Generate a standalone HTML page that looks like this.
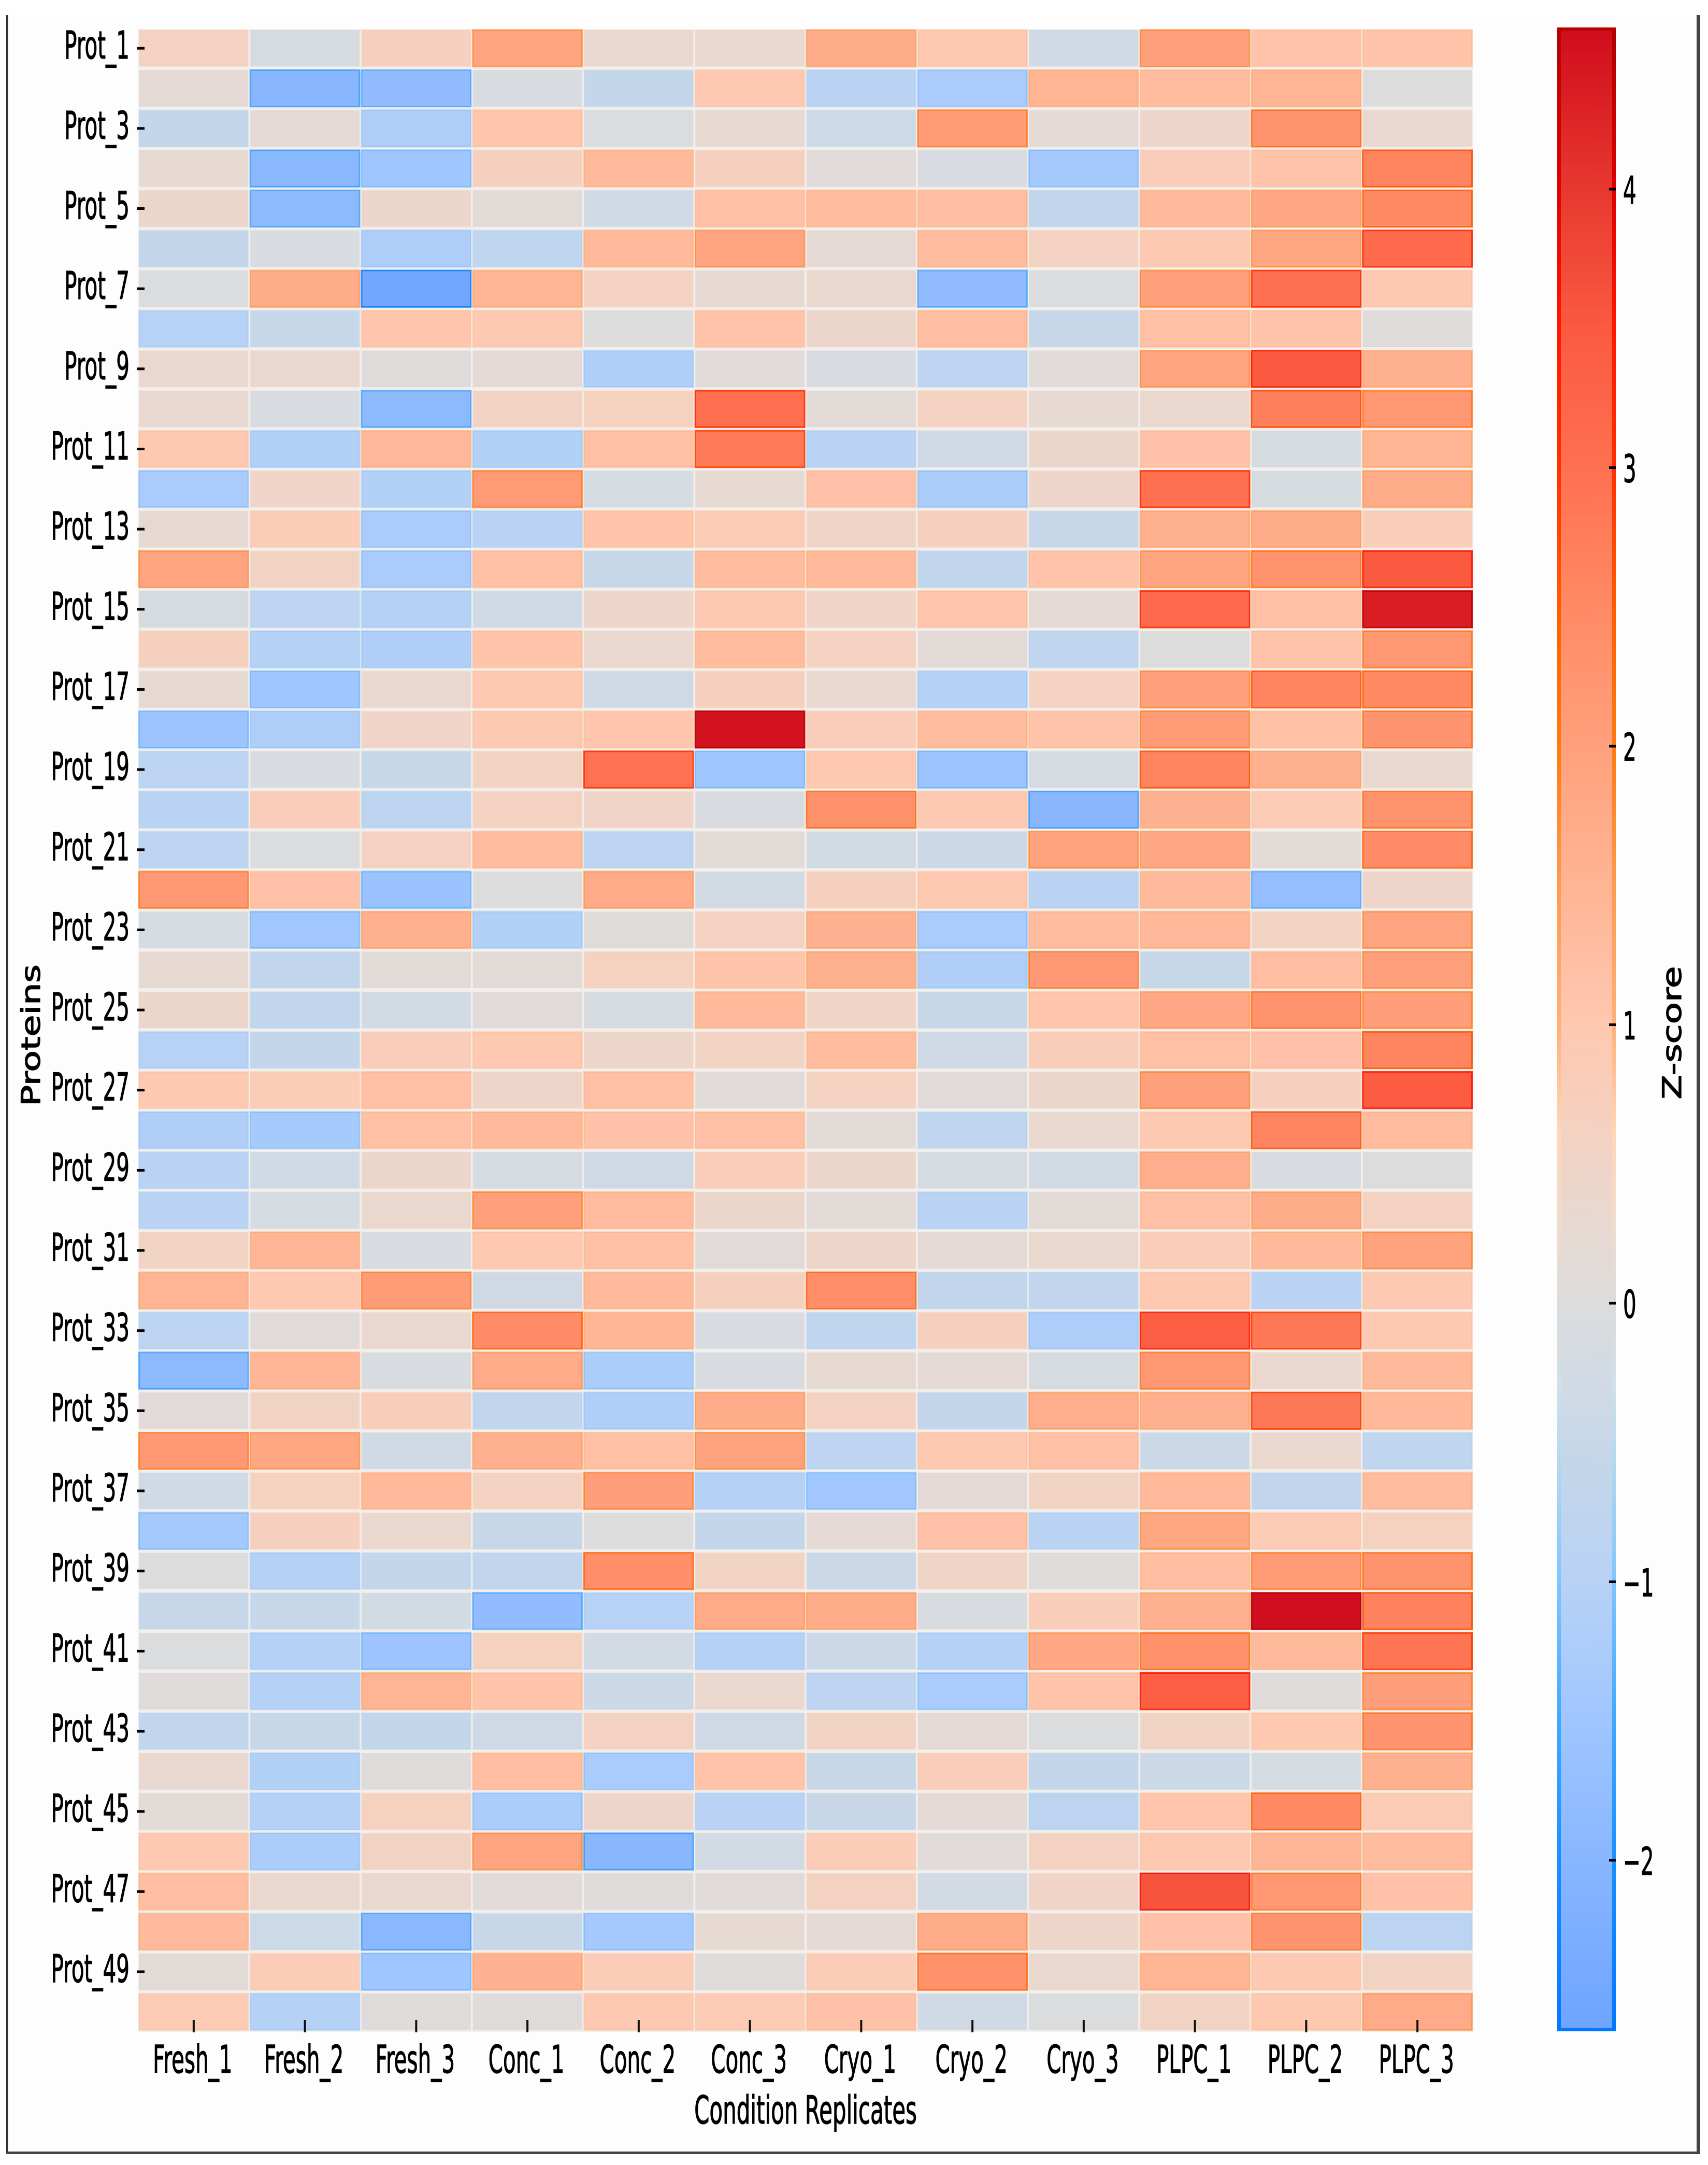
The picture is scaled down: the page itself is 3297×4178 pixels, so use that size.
<!DOCTYPE html>
<html lang="en">
<head>
<meta charset="utf-8">
<title>Protein Z-score heatmap</title>
<style>
html,body{margin:0;padding:0;background:#fff;}
svg{display:block;}
text{font-family:"DejaVu Sans","Liberation Sans",sans-serif;fill:#000;stroke:#000;stroke-width:1.3;}
</style>
</head>
<body>
<svg id="chart" xmlns="http://www.w3.org/2000/svg" width="3297" height="4178" viewBox="0 0 3297 4178">
  <defs>
    <linearGradient id="cbar-fill" x1="0" y1="0" x2="0" y2="1"></linearGradient>
    <linearGradient id="cbar-edge" x1="0" y1="0" x2="0" y2="1"></linearGradient>
  </defs>
  <rect x="14" y="29" width="3261" height="4125" fill="#fdfdfd"/>
  <rect x="12" y="29" width="3.5" height="4127" fill="#333"/>
  <rect x="3275" y="29" width="7" height="4128" fill="#444"/>
  <rect x="12" y="4152" width="3270" height="5" fill="#444"/>
  <rect x="266.5" y="56" width="2577" height="3865" fill="#f3efed"/>
  <g id="cells"></g>
  <g id="y-axis"></g>
  <g id="x-axis"></g>
  <g id="colorbar"></g>
  <text font-size="50" text-anchor="middle" transform="translate(77,1998) rotate(-90) scale(1.36,1)">Proteins</text>
  <text font-size="75" text-anchor="middle" transform="translate(1555,4098) scale(0.56,1)">Condition Replicates</text>
  <text font-size="50" text-anchor="middle" transform="translate(3245,1993) rotate(-90) scale(1.385,1)">Z-score</text>
</svg>
<script>
const replicates = ["Fresh_1","Fresh_2","Fresh_3","Conc_1","Conc_2","Conc_3","Cryo_1","Cryo_2","Cryo_3","PLPC_1","PLPC_2","PLPC_3"];
const colorbarTicks = [4,3,2,1,0,-1,-2];
const zScores = [
[0.6,-0.15,0.7,1.9,0.35,0.35,1.7,1.0,-0.3,2.0,1.1,1.1],
[0.2,-2.0,-1.8,-0.1,-0.6,1.0,-0.9,-1.3,1.5,1.3,1.5,0.0],
[-0.65,0.2,-1.2,1.05,-0.05,0.25,-0.4,2.1,0.2,0.45,2.3,0.3],
[0.25,-1.95,-1.5,0.7,1.35,0.7,0.1,-0.1,-1.4,0.8,1.1,2.6],
[0.4,-1.9,0.4,0.15,-0.3,1.2,1.3,1.25,-0.7,1.35,1.8,2.5],
[-0.6,-0.1,-1.2,-0.75,1.35,1.9,0.2,1.3,0.6,0.95,1.85,3.1],
[-0.05,1.7,-2.5,1.5,0.6,0.25,0.35,-1.8,-0.05,2.0,3.0,0.95],
[-1.0,-0.55,1.05,0.95,0.0,1.1,0.4,1.25,-0.55,1.2,1.1,0.05],
[0.35,0.35,0.05,0.2,-1.15,0.1,-0.1,-0.8,0.1,1.9,3.5,1.6],
[0.3,-0.1,-1.9,0.55,0.65,3.05,0.15,0.6,0.25,0.35,2.7,2.2],
[1.0,-1.1,1.4,-1.1,1.2,2.8,-0.95,-0.35,0.4,1.15,-0.15,1.5],
[-1.3,0.5,-1.1,2.1,-0.2,0.25,1.15,-1.25,0.45,3.0,-0.15,1.7],
[0.25,0.85,-1.3,-0.95,1.1,0.9,0.5,0.7,-0.55,1.6,1.7,0.8],
[1.9,0.55,-1.3,1.2,-0.5,1.3,1.35,-0.7,1.1,1.9,2.3,3.5],
[-0.15,-0.8,-1.05,-0.3,0.45,0.95,0.5,1.05,0.2,3.1,1.2,4.35],
[0.7,-1.05,-1.15,1.1,0.3,1.3,0.6,0.15,-0.75,0.0,1.1,2.2],
[0.25,-1.5,0.3,1.0,-0.35,0.7,0.3,-1.05,0.6,2.0,2.6,2.5],
[-1.55,-1.2,0.5,0.95,1.05,4.5,0.8,1.3,1.1,2.1,1.2,2.25],
[-0.85,-0.1,-0.55,0.55,2.95,-1.5,1.0,-1.55,-0.2,2.6,1.6,0.3],
[-0.9,0.8,-0.85,0.6,0.5,-0.1,2.35,0.95,-2.0,1.55,0.9,2.3],
[-0.85,-0.05,0.6,1.3,-0.85,0.15,-0.25,-0.45,1.95,1.8,0.15,2.45],
[2.15,1.15,-1.6,0.0,1.75,-0.25,0.7,1.0,-0.9,1.35,-1.75,0.45],
[-0.2,-1.45,1.6,-1.1,0.05,0.6,1.55,-1.3,1.3,1.4,0.55,1.9],
[0.25,-0.7,0.15,0.15,0.65,1.1,1.6,-1.15,2.15,-0.55,1.25,2.0],
[0.4,-0.7,-0.25,0.1,-0.15,1.35,0.5,-0.5,1.05,1.8,2.3,2.05],
[-1.0,-0.6,0.8,1.0,0.45,0.55,1.3,-0.35,0.75,1.2,1.15,2.6],
[0.95,0.85,1.2,0.45,1.2,0.1,0.6,0.1,0.4,2.0,0.7,3.45],
[-1.15,-1.35,1.2,1.35,1.15,1.2,0.15,-0.75,0.3,0.95,2.6,1.3],
[-0.95,-0.3,0.4,-0.2,-0.35,0.8,0.4,-0.2,-0.25,1.65,-0.1,0.0],
[-0.9,-0.2,0.35,2.0,1.3,0.4,0.15,-0.95,0.15,1.2,1.7,0.6],
[0.55,1.45,-0.1,1.0,1.2,0.1,0.45,0.2,0.35,0.8,1.35,1.95],
[1.5,1.0,2.1,-0.35,1.35,0.7,2.4,-0.7,-0.7,1.0,-0.9,0.95],
[-0.85,0.1,0.35,2.45,1.45,-0.1,-0.75,0.7,-1.2,3.4,2.85,0.95],
[-1.9,1.45,-0.1,1.75,-1.25,-0.1,0.25,0.2,-0.15,2.2,0.35,1.35],
[0.1,0.55,0.75,-0.7,-1.15,1.7,0.6,-0.65,1.65,1.6,2.85,1.4],
[2.15,1.85,-0.3,1.6,1.2,1.95,-0.8,1.0,1.2,-0.45,0.35,-0.75],
[-0.3,0.65,1.35,0.6,2.05,-1.05,-1.45,0.2,0.55,1.35,-0.7,1.3],
[-1.4,0.7,0.35,-0.5,0.0,-0.6,0.2,1.15,-0.9,1.85,0.9,0.65],
[0.0,-1.05,-0.65,-0.7,2.4,0.55,-0.45,0.5,0.05,1.25,2.1,2.3],
[-0.55,-0.55,-0.25,-1.8,-1.0,1.75,1.7,-0.1,0.75,1.6,4.55,2.65],
[-0.05,-1.05,-1.55,0.65,-0.25,-1.05,-0.45,-1.05,1.8,2.35,1.35,2.9],
[0.05,-1.05,1.5,1.1,-0.45,0.35,-0.8,-1.3,1.1,3.4,0.05,2.05],
[-0.7,-0.5,-0.65,-0.35,0.6,-0.35,0.55,0.2,-0.05,0.55,1.0,2.25],
[0.3,-1.1,0.05,1.25,-1.3,1.1,-0.5,0.8,-0.65,-0.45,-0.2,1.6],
[0.15,-1.05,0.65,-1.25,0.45,-0.95,-0.5,0.2,-0.85,1.05,2.5,0.9],
[0.95,-1.25,0.55,1.9,-2.0,-0.25,0.85,0.1,0.6,1.0,1.45,1.3],
[1.25,0.35,0.35,0.1,0.05,0.1,0.6,-0.25,0.5,3.6,2.2,1.15],
[1.35,-0.4,-1.95,-0.5,-1.4,0.25,0.2,1.7,0.45,1.15,2.25,-0.85],
[0.15,0.85,-1.5,1.55,0.85,0.05,0.85,2.35,0.35,1.5,0.95,0.55],
[0.9,-1.05,0.05,0.05,0.95,0.9,1.15,-0.3,-0.05,0.55,1.0,1.75]
];
const colorValues = [-2.62,-2,-1.5,-1,-0.6,-0.3,0,0.3,0.6,1,1.5,2,2.5,3,3.5,4,4.58];
const fillColors = ["#6ea4ff","#88b6ff","#a0c6ff","#b8d2f5","#c4d6ea","#d0dae4","#dcdcdc","#e8d8d0","#f3d2c2","#ffc8b0","#ffb494","#ffa07c","#ff8a64","#ff7050","#fa5a40","#e83830","#d00c1c"];
const edgeColors = ["#0078ff","#1890ff","#40a8ff","#80c4ff","#b0d8f0","#d0e0e8","#dcdcdc","#f0dccc","#ffd8b8","#ffb078","#ff9a50","#ff7a10","#ff5c00","#ff3000","#ff1800","#e00000","#b00000"];

const NS = "http://www.w3.org/2000/svg";
const plotLeft = 266.5, plotRight = 2843.5, plotTop = 54.5, rowStep = 77.33;
const colStep = (plotRight - plotLeft) / replicates.length;
const zeroY = 2515, unitY = 537.5;
const barLeft = 3006, barRight = 3119, barTop = 53, barBottom = 3920;

function xScale(col){ return plotLeft + col * colStep; }
function yScale(row){ return plotTop + row * rowStep; }
function barY(value){ return zeroY - value * unitY; }
function hexToRgb(h){ return [parseInt(h.slice(1,3),16),parseInt(h.slice(3,5),16),parseInt(h.slice(5,7),16)]; }
function ramp(value, colors){
  const n = colorValues.length;
  if(value <= colorValues[0]) return colors[0];
  if(value >= colorValues[n-1]) return colors[n-1];
  let i = 0;
  while(value > colorValues[i+1]) i++;
  const t = (value - colorValues[i]) / (colorValues[i+1] - colorValues[i]);
  const a = hexToRgb(colors[i]), b = hexToRgb(colors[i+1]);
  return "rgb(" + a.map((c,k)=>Math.round(c + (b[k]-c)*t)).join(",") + ")";
}
function make(tag, parent){
  const el = document.createElementNS(NS, tag);
  parent.appendChild(el);
  return el;
}

const cellsGroup = document.getElementById("cells");
zScores.forEach(function(rowValues, r){
  rowValues.forEach(function(v, c){
    const cell = make("rect", cellsGroup);
    
    
    cell.setAttribute("x", xScale(c) + 2);
    cell.setAttribute("y", yScale(r) + 3.5);
    cell.setAttribute("width", colStep - 4);
    cell.setAttribute("height", rowStep - 7);
    cell.setAttribute("fill", ramp(v, fillColors));
    cell.setAttribute("stroke", ramp(v, edgeColors));
    cell.setAttribute("stroke-width", "3");
    cell.setAttribute("stroke-opacity", Math.min(0.9, Math.abs(v) / 3).toFixed(2));
  });
});

const yAxis = document.getElementById("y-axis");
zScores.forEach(function(rowValues, r){
  if(r % 2 !== 0) return;
  const center = yScale(r) + rowStep / 2;
  const tick = make("rect", yAxis);
  
  
  tick.setAttribute("x", 264);
  tick.setAttribute("y", center - 2.5);
  tick.setAttribute("width", 15);
  tick.setAttribute("height", 5);
  tick.setAttribute("fill", "#000");
  const label = make("text", yAxis);
  
  
  label.setAttribute("font-size", "74");
  label.setAttribute("text-anchor", "end");
  label.setAttribute("transform", "translate(250," + (center + 20) + ") scale(0.546,1)");
  label.textContent = "Prot_" + (r + 1);
});

const xAxis = document.getElementById("x-axis");
replicates.forEach(function(name, c){
  const center = xScale(c) + colStep / 2;
  const tick = make("rect", xAxis);
  
  
  tick.setAttribute("x", center - 2);
  tick.setAttribute("y", 3898);
  tick.setAttribute("width", 4);
  tick.setAttribute("height", 24);
  tick.setAttribute("fill", "#111");
  const label = make("text", xAxis);
  
  
  label.setAttribute("font-size", "74");
  label.setAttribute("text-anchor", "middle");
  label.setAttribute("transform", "translate(" + (center - 2) + ",4000) scale(0.546,1)");
  label.textContent = name;
});

const topValue = (zeroY - barTop) / unitY;
const bottomValue = (zeroY - barBottom) / unitY;
function fillGradient(id, colors){
  const grad = document.getElementById(id);
  for(let i = colorValues.length - 1; i >= 0; i--){
    const v = colorValues[i];
    const stop = document.createElementNS(NS, "stop");
    stop.setAttribute("offset", Math.max(0, Math.min(1, (topValue - v) / (topValue - bottomValue))));
    stop.setAttribute("stop-color", colors[i]);
    grad.appendChild(stop);
  }
}
fillGradient("cbar-fill", fillColors);
fillGradient("cbar-edge", edgeColors);

const colorbar = document.getElementById("colorbar");
const barBody = make("rect", colorbar);


barBody.setAttribute("x", barLeft);
barBody.setAttribute("y", barTop);
barBody.setAttribute("width", barRight - barLeft);
barBody.setAttribute("height", barBottom - barTop);
barBody.setAttribute("fill", "url(#cbar-fill)");
const edgeLeft = make("rect", colorbar);


edgeLeft.setAttribute("x", barLeft);
edgeLeft.setAttribute("y", barTop);
edgeLeft.setAttribute("width", 7);
edgeLeft.setAttribute("height", barBottom - barTop);
edgeLeft.setAttribute("fill", "url(#cbar-edge)");
const edgeRight = make("rect", colorbar);


edgeRight.setAttribute("x", barRight - 7);
edgeRight.setAttribute("y", barTop);
edgeRight.setAttribute("width", 7);
edgeRight.setAttribute("height", barBottom - barTop);
edgeRight.setAttribute("fill", "url(#cbar-edge)");
const edgeTop = make("rect", colorbar);


edgeTop.setAttribute("x", barLeft);
edgeTop.setAttribute("y", barTop);
edgeTop.setAttribute("width", barRight - barLeft);
edgeTop.setAttribute("height", 6);
edgeTop.setAttribute("fill", "#b80000");
const edgeBottom = make("rect", colorbar);


edgeBottom.setAttribute("x", barLeft);
edgeBottom.setAttribute("y", barBottom - 6);
edgeBottom.setAttribute("width", barRight - barLeft);
edgeBottom.setAttribute("height", 6);
edgeBottom.setAttribute("fill", "#0078ff");

colorbarTicks.forEach(function(v){
  const y = barY(v);
  const tick = make("rect", colorbar);
  
  
  tick.setAttribute("x", barRight - 13);
  tick.setAttribute("y", y - 2.5);
  tick.setAttribute("width", 13);
  tick.setAttribute("height", 5);
  tick.setAttribute("fill", "#000");
  const label = make("text", colorbar);
  
  
  label.setAttribute("font-size", "74");
  label.setAttribute("text-anchor", "start");
  label.setAttribute("transform", "translate(3133," + (y + 28) + ") scale(0.546,1)");
  label.textContent = v < 0 ? "\u2212" + Math.abs(v) : String(v);
});
</script>
</body>
</html>
